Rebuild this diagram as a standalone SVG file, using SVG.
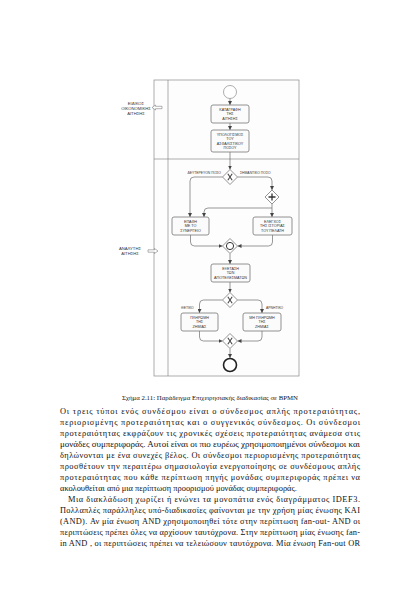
<svg xmlns="http://www.w3.org/2000/svg" width="420" height="594" viewBox="0 0 420 594">
<style>
.pool{fill:#fdfdfd;stroke:#8a8a8a;stroke-width:0.7}
.ln{fill:none;stroke:#8a8a8a;stroke-width:0.7}
.task{fill:#fbfbfb;stroke:#777;stroke-width:0.8}
.tt{font-family:"Liberation Sans",Arial,sans-serif;font-size:3.7px;fill:#333;text-anchor:middle}
.gl{font-family:"Liberation Sans",Arial,sans-serif;font-size:3.4px;fill:#333}
.lane{font-family:"Liberation Sans",Arial,sans-serif;font-size:4.2px;fill:#333;text-anchor:middle}
.gw{fill:#fff;stroke:#777;stroke-width:0.8}
.mk{fill:none;stroke:#444;stroke-width:1.1}
.c{fill:none;stroke:#555;stroke-width:0.6;marker-end:url(#ah)}
.body{font-family:"Liberation Serif","Times New Roman",serif;font-size:8.4px;fill:#111}
.cap{font-family:"Liberation Serif","Times New Roman",serif;font-size:6.8px;fill:#111;text-anchor:middle}
</style>
<defs>
<marker id="ah" viewBox="0 0 6 6" refX="6" refY="3" markerWidth="4" markerHeight="4" orient="auto" markerUnits="userSpaceOnUse">
<path d="M0,0 L6,3 L0,6 z" fill="#444"/>
</marker>
</defs>
<rect width="420" height="594" fill="#fff"/>

<g id="pool">
<rect class="pool" x="154" y="80" width="145" height="296"/>
<line class="ln" x1="168" y1="80" x2="168" y2="376"/>
<line class="ln" x1="154" y1="159" x2="299" y2="159"/>
</g>

<g id="lane1-label">
<text class="lane" x="136" y="104.5">ΕΙΔΙΚΟΣ</text>
<text class="lane" x="136" y="109.5">ΟΙΚΟΝΟΜΙΚΗΣ</text>
<text class="lane" x="136" y="114.5">ΑΙΤΗΣΗΣ</text>
<path d="M152,107.5 L155.5,105 L155.5,106.3 L162,106.3 L162,108.7 L155.5,108.7 L155.5,110 Z" fill="#fff" stroke="#666" stroke-width="0.5"/>
</g>
<g id="lane2-label">
<text class="lane" x="130" y="250">ΑΝΑΛΥΤΗΣ</text>
<text class="lane" x="130" y="255">ΑΙΤΗΣΗΣ</text>
<path d="M158,251 L154.5,248.5 L154.5,249.8 L148,249.8 L148,252.2 L154.5,252.2 L154.5,253.5 Z" fill="#fff" stroke="#666" stroke-width="0.5"/>
</g>

<g id="connectors">
<path class="c" d="M230,98.5 V105"/>
<path class="c" d="M230,123 V130"/>
<path class="c" d="M230,152 V169.5"/>
<path class="c" d="M222.5,177 H194 Q190,177 190,181 V217"/>
<path class="c" d="M237.5,177 H268 Q272,177 272,181 V190"/>
<path class="c" d="M272,204 V217"/>
<path class="c" d="M272,208 H208 Q204,208 204,212 V217"/>
<path class="c" d="M190.5,235 V242 Q190.5,246 194.5,246 H222.5"/>
<path class="c" d="M272.5,235 V242 Q272.5,246 268.5,246 H237.5"/>
<path class="c" d="M230,253.5 V264"/>
<path class="c" d="M230,282 V292.5"/>
<path class="c" d="M222.5,300 H203.5 Q199.5,300 199.5,304 V313"/>
<path class="c" d="M237.5,300 H258 Q262,300 262,304 V313"/>
<path class="c" d="M199.5,331 V337 Q199.5,341 203.5,341 H222.5"/>
<path class="c" d="M262,331 V337 Q262,341 258,341 H237.5"/>
<path class="c" d="M230,348.5 V358"/>
</g>

<g id="start">
<circle cx="230" cy="92" r="6.5" fill="#fff" stroke="#777" stroke-width="0.6"/>
</g>

<g id="t1">
<rect class="task" x="211" y="105" width="38" height="18" rx="2"/>
<text class="tt" x="230" y="110.5">ΚΑΤΑΓΡΑΦΗ</text>
<text class="tt" x="230" y="115.3">ΤΗΣ</text>
<text class="tt" x="230" y="120.1">ΑΙΤΗΣΗΣ</text>
</g>
<g id="t2">
<rect class="task" x="211" y="130" width="38" height="22" rx="2"/>
<text class="tt" x="230" y="135.5">ΥΠΟΛΟΓΙΣΜΟΣ</text>
<text class="tt" x="230" y="140">ΤΟΥ</text>
<text class="tt" x="230" y="144.5">ΑΣΦΑΛΙΣΤΙΚΟΥ</text>
<text class="tt" x="230" y="149">ΠΟΣΟΥ</text>
</g>

<g id="xor1">
<path class="gw" d="M230,169.5 L237.5,177 L230,184.5 L222.5,177 Z"/>
<path class="mk" d="M227.8,173.8 L232.2,180.2 M232.2,173.8 L227.8,180.2"/>
<text class="gl" x="221" y="173.5" text-anchor="end">ΔΕΥΤΕΡΕΥΟΝ ΠΟΣΟ</text>
<text class="gl" x="240" y="173.5">ΣΗΜΑΝΤΙΚΟ ΠΟΣΟ</text>
</g>

<g id="and1">
<path class="gw" d="M272,190 L279,197 L272,204 L265,197 Z"/>
<path d="M272,193.5 V200.5 M268.5,197 H275.5" fill="none" stroke="#333" stroke-width="1.3"/>
</g>

<g id="t3">
<rect class="task" x="172" y="217" width="37" height="18" rx="2"/>
<text class="tt" x="190.5" y="222.5">ΕΠΑΦΗ</text>
<text class="tt" x="190.5" y="227.3">ΜΕ ΤΟ</text>
<text class="tt" x="190.5" y="232.1">ΣΥΝΕΡΓΕΙΟ</text>
</g>
<g id="t4">
<rect class="task" x="253" y="217" width="39" height="18" rx="2"/>
<text class="tt" x="272.5" y="222.5">ΕΛΕΓΧΟΣ</text>
<text class="tt" x="272.5" y="227.3">ΤΗΣ ΙΣΤΟΡΙΑΣ</text>
<text class="tt" x="272.5" y="232.1">ΤΟΥ ΠΕΛΑΤΗ</text>
</g>

<g id="or1">
<path class="gw" d="M230,238.5 L237.5,246 L230,253.5 L222.5,246 Z"/>
<circle cx="230" cy="246" r="3.6" fill="none" stroke="#333" stroke-width="1"/>
</g>

<g id="t5">
<rect class="task" x="211" y="264" width="39" height="18" rx="2"/>
<text class="tt" x="230.5" y="269.5">ΕΞΕΤΑΣΗ</text>
<text class="tt" x="230.5" y="274.3">ΤΩΝ</text>
<text class="tt" x="230.5" y="279.1">ΑΠΟΤΕΛΕΣΜΑΤΩΝ</text>
</g>

<g id="xor2">
<path class="gw" d="M230,292.5 L237.5,300 L230,307.5 L222.5,300 Z"/>
<path class="mk" d="M227.8,296.8 L232.2,303.2 M232.2,296.8 L227.8,303.2"/>
<text class="gl" x="181" y="309">ΘΕΤΙΚΟ</text>
<text class="gl" x="266" y="309">ΑΡΝΗΤΙΚΟ</text>
</g>

<g id="t6">
<rect class="task" x="181" y="313" width="37" height="18" rx="2"/>
<text class="tt" x="199.5" y="318.5">ΠΛΗΡΩΜΗ</text>
<text class="tt" x="199.5" y="323.3">ΤΗΣ</text>
<text class="tt" x="199.5" y="328.1">ΖΗΜΙΑΣ</text>
</g>
<g id="t7">
<rect class="task" x="243" y="313" width="38" height="18" rx="2"/>
<text class="tt" x="262" y="318.5">ΜΗ ΠΛΗΡΩΜΗ</text>
<text class="tt" x="262" y="323.3">ΤΗΣ</text>
<text class="tt" x="262" y="328.1">ΖΗΜΙΑΣ</text>
</g>

<g id="xor3">
<path class="gw" d="M230,333.5 L237.5,341 L230,348.5 L222.5,341 Z"/>
<path class="mk" d="M227.8,337.8 L232.2,344.2 M232.2,337.8 L227.8,344.2"/>
</g>

<g id="end">
<circle cx="230" cy="365" r="6.5" fill="#fff" stroke="#222" stroke-width="1.6"/>
</g>

<g id="text">
<text class="cap" x="210" y="400">Σχήμα 2.11: Παράδειγμα Επιχειρησιακής διαδικασίας σε BPMN</text>
<text class="body" x="60" y="414" textLength="300" lengthAdjust="spacing">Οι τρεις τύποι ενός συνδέσμου είναι ο σύνδεσμος απλής προτεραιότητας,</text>
<text class="body" x="60" y="425" textLength="300" lengthAdjust="spacing">περιορισμένης προτεραιότητας και ο συγγενικός σύνδεσμος. Οι σύνδεσμοι</text>
<text class="body" x="60" y="436" textLength="300" lengthAdjust="spacing">προτεραιότητας εκφράζουν τις χρονικές σχέσεις προτεραιότητας ανάμεσα στις</text>
<text class="body" x="60" y="447" textLength="300" lengthAdjust="spacingAndGlyphs">μονάδες συμπεριφοράς. Αυτοί είναι οι πιο ευρέως χρησιμοποιημένοι σύνδεσμοι και</text>
<text class="body" x="60" y="458" textLength="300" lengthAdjust="spacing">δηλώνονται με ένα συνεχές βέλος. Οι σύνδεσμοι περιορισμένης προτεραιότητας</text>
<text class="body" x="60" y="469" textLength="300" lengthAdjust="spacing">προσθέτουν την περαιτέρω σημασιολογία ενεργοποίησης σε συνδέσμους απλής</text>
<text class="body" x="60" y="480" textLength="300" lengthAdjust="spacing">προτεραιότητας που κάθε περίπτωση πηγής μονάδας συμπεριφοράς πρέπει να</text>
<text class="body" x="60" y="491">ακολουθείται από μια περίπτωση προορισμού μονάδας συμπεριφοράς.</text>
<text class="body" x="68" y="502" textLength="292" lengthAdjust="spacing">Μια διακλάδωση χωρίζει ή ενώνει τα μονοπάτια ενός διαγράμματος IDEF3.</text>
<text class="body" x="60" y="513" textLength="300" lengthAdjust="spacing">Πολλαπλές παράλληλες υπό-διαδικασίες φαίνονται με την χρήση μίας ένωσης ΚΑΙ</text>
<text class="body" x="60" y="524" textLength="300" lengthAdjust="spacing">(AND). Αν μία ένωση AND χρησιμοποιηθεί τότε στην περίπτωση fan-out- AND οι</text>
<text class="body" x="60" y="535" textLength="300" lengthAdjust="spacing">περιπτώσεις πρέπει όλες να αρχίσουν ταυτόχρονα. Στην περίπτωση μίας ένωσης fan-</text>
<text class="body" x="60" y="546" textLength="300" lengthAdjust="spacing">in AND , οι περιπτώσεις πρέπει να τελειώσουν ταυτόχρονα. Μία ένωση Fan-out OR</text>
</g>
</svg>
